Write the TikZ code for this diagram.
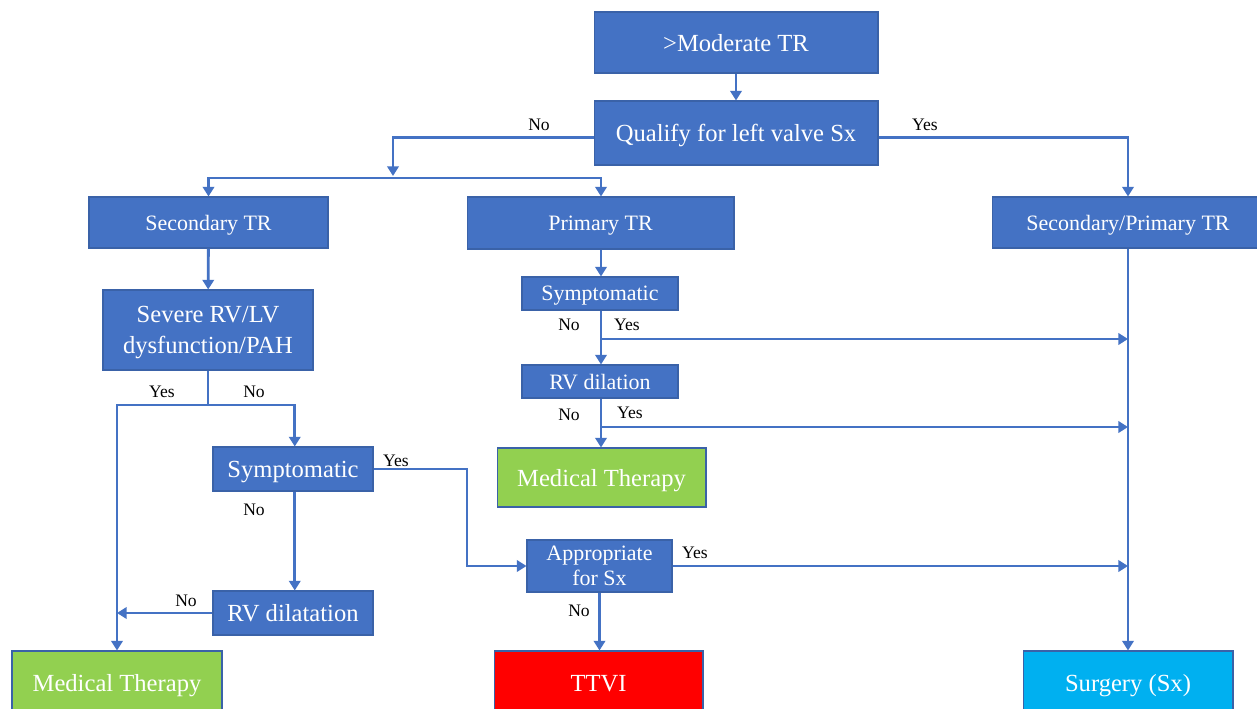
\documentclass[tikz,border=0pt]{standalone}
\usepackage{fontspec}
\setmainfont{Liberation Serif}
\usetikzlibrary{arrows.meta, calc}
\definecolor{colorBlue}{HTML}{4472C4}
\definecolor{colorEdge}{HTML}{3A62A8}
\definecolor{colorGreen}{HTML}{92D050}
\definecolor{colorRed}{HTML}{FF0000}
\definecolor{colorSky}{HTML}{00B0F0}
\tikzstyle{flowbox}=[draw=colorEdge, fill=colorBlue, text=white, line width=0.6pt, inner sep=0pt, align=center, text depth=0pt]
\tikzstyle{flowline}=[line width=1.6pt, colorBlue]
\tikzstyle{flowarrow}=[flowline, -{Triangle[width=6.5pt,length=5.5pt]}]
\tikzstyle{answer}=[text=black, inner sep=0pt, font=\fontsize{10}{11}\selectfont]
\newcommand{\bigtxt}{\fontsize{14}{18}\selectfont}
\newcommand{\midtxt}{\fontsize{12.5}{14.2}\selectfont}

\begin{document}
\begin{tikzpicture}[x=0.02cm, y=-0.02cm]
\useasboundingbox (0,0) rectangle (1257,709);
\fill[white] (0,0) rectangle (1257,709);

\node (modTR) [flowbox, minimum width=5.68cm, minimum height=1.22cm, font=\bigtxt] at (736,42.5) {>Moderate TR};
\node (qualify) [flowbox, minimum width=5.68cm, minimum height=1.28cm, font=\bigtxt] at (736,133) {Qualify for left valve Sx};

\node (secTR) [flowbox, minimum width=4.78cm, minimum height=1.02cm, font=\midtxt] at (208.5,222.5) {Secondary TR};
\node (primTR) [flowbox, minimum width=5.34cm, minimum height=1.04cm, font=\midtxt] at (600.5,223) {Primary TR};
\node (secPrimTR) [flowbox, minimum width=5.44cm, minimum height=1.02cm, font=\midtxt] at (1128,222.5) {Secondary/Primary TR};

\node (severe) [flowbox, minimum width=4.2cm, minimum height=1.6cm, font=\bigtxt] at (208,330) {Severe RV/LV\\dysfunction/PAH};
\node (sympL) [flowbox, minimum width=3.2cm, minimum height=0.88cm, font=\bigtxt] at (293,469) {Symptomatic};
\node (rvDilL) [flowbox, minimum width=3.2cm, minimum height=0.88cm, font=\bigtxt] at (293,613) {RV dilatation};

\node (sympM) [flowbox, minimum width=3.12cm, minimum height=0.66cm, font=\midtxt] at (600,293.5) {Symptomatic};
\node (rvDilM) [flowbox, minimum width=3.12cm, minimum height=0.66cm, font=\midtxt] at (600,381.5) {RV dilation};
\node (medM) [flowbox, fill=colorGreen, minimum width=4.18cm, minimum height=1.18cm, font=\bigtxt] at (601.5,477.5) {Medical Therapy};
\node (approp) [flowbox, minimum width=2.9cm, minimum height=1.04cm, font=\midtxt] at (599.5,566) {Appropriate\\for Sx};

\node (medL) [flowbox, fill=colorGreen, minimum width=4.2cm, minimum height=1.28cm, font=\bigtxt] at (117,683) {Medical Therapy};
\node (ttvi) [flowbox, fill=colorRed, minimum width=4.18cm, minimum height=1.28cm, font=\bigtxt] at (598.5,683) {TTVI};
\node (surgery) [flowbox, fill=colorSky, minimum width=4.2cm, minimum height=1.28cm, font=\bigtxt] at (1128,683) {Surgery (Sx)};

\coordinate (noEnd) at (393,176);
\coordinate (branch) at (393,178);
\coordinate (sevSplit) at (208,405);
\coordinate (sympTurn) at (467,469);
\coordinate (sympYes) at (601,339);
\coordinate (rvYes) at (601,427);

\draw[flowarrow] (modTR) -- (qualify);
\draw[flowarrow] ([yshift=-2.6pt]qualify.west) -| (noEnd);
\draw[flowarrow] (branch) -| (secTR.north);
\draw[flowarrow] (branch) -| (sympYes |- primTR.north);
\draw[flowarrow] ([yshift=-2.6pt]qualify.east) -| (secPrimTR.north);
\draw[flowarrow] (secPrimTR) -- (surgery);

\draw[flowarrow] (secTR) -- (severe);
\draw[flowline] (severe) -- (sevSplit);
\draw[flowarrow] (sevSplit) -| (medL.north);
\draw[flowarrow] (sevSplit) -| ([xshift=1pt]sympL.north);
\draw[flowarrow] (sympL.east) -- (sympTurn) |- (approp.west);
\draw[flowarrow] ([xshift=1pt]sympL.south) -- ([xshift=1pt]rvDilL.north);
\draw[flowarrow] (rvDilL.west) -- (rvDilL.west -| medL.north);

\draw[flowarrow] (sympYes |- primTR.south) -- (sympYes |- sympM.north);
\draw[flowarrow] (sympYes |- sympM.south) -- (sympYes |- rvDilM.north);
\draw[flowarrow] (sympYes) -- (sympYes -| surgery.north);
\draw[flowarrow] (rvYes |- rvDilM.south) -- (rvYes |- medM.north);
\draw[flowarrow] (rvYes) -- (rvYes -| surgery.north);
\draw[flowarrow] (approp.east) -- (approp.east -| surgery.north);
\draw[flowarrow] (approp.south) -- (approp.south |- ttvi.north);

\node (lblQualNo) [answer] at (539,125) {No};
\node (lblQualYes) [answer] at (925,125) {Yes};
\node (lblSevYes) [answer] at (162,392) {Yes};
\node (lblSevNo) [answer] at (254,392) {No};
\node (lblSympLYes) [answer] at (396,461) {Yes};
\node (lblSympLNo) [answer] at (254,510) {No};
\node (lblRvLNo) [answer] at (186,601) {No};
\node (lblSympMNo) [answer] at (569,325) {No};
\node (lblSympMYes) [answer] at (627,325) {Yes};
\node (lblRvMNo) [answer] at (569,415) {No};
\node (lblRvMYes) [answer] at (630,413) {Yes};
\node (lblAppYes) [answer] at (695,553) {Yes};
\node (lblAppNo) [answer] at (579,611) {No};
\end{tikzpicture}
\end{document}
